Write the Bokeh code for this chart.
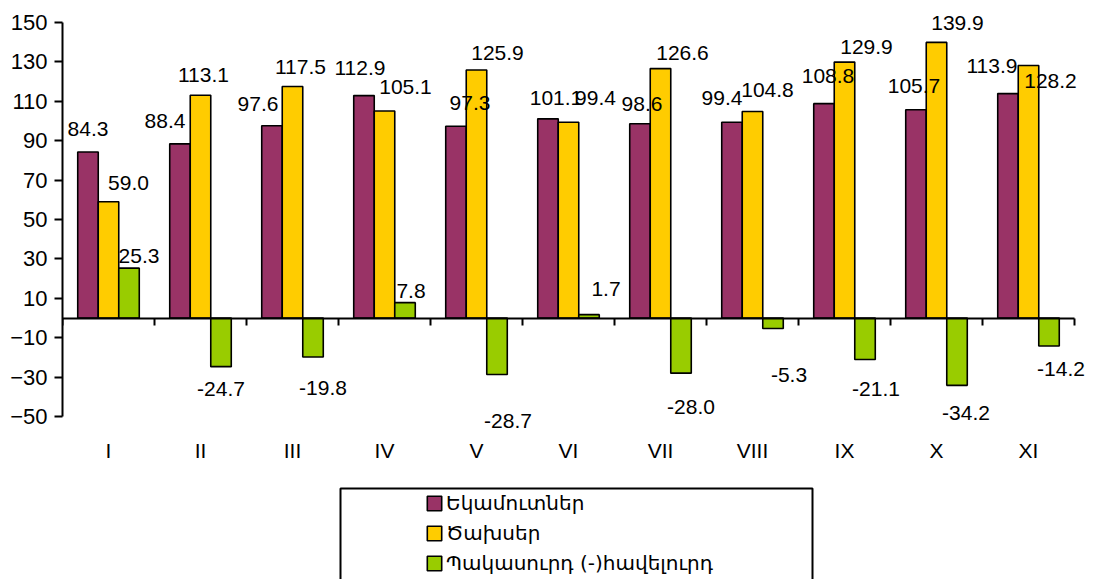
from bokeh.plotting import figure
from bokeh.models import (ColumnDataSource, LinearAxis, FixedTicker, Range1d,
                          Legend, LegendItem, BoxAnnotation)
from bokeh.core.properties import value
from bokeh.embed import file_html
from bokeh.resources import INLINE

# ---- data ----
categories = ["I", "II", "III", "IV", "V", "VI", "VII", "VIII", "IX", "X", "XI"]
revenues = [84.3, 88.4, 97.6, 112.9, 97.3, 101.1, 98.6, 99.4, 108.8, 105.7, 113.9]
expenses = [59.0, 113.1, 117.5, 105.1, 125.9, 99.4, 126.6, 104.8, 129.9, 139.9, 128.2]
balance = [25.3, -24.7, -19.8, 7.8, -28.7, 1.7, -28.0, -5.3, -21.1, -34.2, -14.2]
series_names = ["Եկամուտներ", "Ծախսեր", "Պակասուրդ (-)հավելուրդ"]
y_ticks = [-50, -30, -10, 10, 30, 50, 70, 90, 110, 130, 150]
y_min, y_max = -50, 150

# ---- styling / label nudges (screen pixels) ----
colors = ["#993366", "#FFCC00", "#99CC00"]
rev_dx = [0, -15, -14, -4, 14, 8, 2, -10, 4, -2, -16]
rev_dy = [-23, -23, -22, -28, -23, -21, -20, -24, -28, -24, -28]
exp_dx = [20, 3, 8, 21, 21, 27, 22, 15, 22, 21, 22]
exp_dy = [-19, -20, -20, -24, -17, -24, -16, -22, -15, -19, 16]
bal_dx = [10, 0, 10, 6, 11, 17, 10, 16, 11, 9, 12]
bal_dy = [-12, 22, 31, -12, 46, -26, 34, 47, 29, 28, 23]

W, H = 1102, 579
LEFT = 62            # frame left (px)
SLOT = 92            # px per category
AX_TOP, AX_BOT = 22, 416   # px of y_max / y_min
ppu = (AX_BOT - AX_TOP) / (y_max - y_min)
zero_px = AX_TOP + y_max * ppu

BAR_W = 0.223
n = len(categories)
centers = [i + 1 for i in range(n)]
x_lo = 0.5
x_hi = x_lo + (W - LEFT) / SLOT
yr_hi = zero_px / ppu
yr_lo = -(H - zero_px) / ppu

p = figure(width=W, height=H, x_range=Range1d(x_lo, x_hi),
           y_range=Range1d(yr_lo, yr_hi), output_backend="svg",
           toolbar_location=None, min_border_left=LEFT, min_border_right=0,
           min_border_top=0, min_border_bottom=0)
p.outline_line_color = None
p.xgrid.visible = False
p.ygrid.visible = False
p.background_fill_color = "white"
p.border_fill_color = "white"

FONT = value("Liberation Sans")

series = [revenues, expenses, balance]
dxs = [rev_dx, exp_dx, bal_dx]
dys = [rev_dy, exp_dy, bal_dy]
renderers = []
sources = []
for k, (vals, col, dx, dy) in enumerate(zip(series, colors, dxs, dys)):
    xs = [c + (k - 1) * BAR_W for c in centers]
    src = ColumnDataSource(dict(x=xs, top=vals, bottom=[0] * n,
                                label=[f"{v:.1f}" for v in vals],
                                dx=dx, dy=dy))
    sources.append(src)
    r = p.vbar(x="x", top="top", bottom="bottom", width=BAR_W, source=src,
               fill_color=col, line_color="black", line_width=1.6)
    renderers.append(r)

for src in sources:
    p.text(x="x", y="top", text="label", source=src, x_offset="dx",
           y_offset="dy", text_align="center", text_baseline="middle",
           text_font=FONT, text_font_size="21px", text_color="black")

# left axis
ya = p.yaxis[0]
ya.ticker = FixedTicker(ticks=y_ticks)
ya.bounds = (y_min, y_max)
ya.axis_line_width = 2
ya.major_tick_line_width = 2
ya.major_tick_out = 8
ya.major_tick_in = 0
ya.minor_tick_line_color = None
ya.major_label_standoff = 7
ya.major_label_text_font = "Liberation Sans"
ya.major_label_text_font_size = "22px"
ya.major_label_text_color = "black"

# category labels under the plot area (no line)
xa = p.xaxis[0]
xa.fixed_location = y_min
xa.ticker = FixedTicker(ticks=centers)
xa.major_label_overrides = {c: cat for c, cat in zip(centers, categories)}
xa.axis_line_color = None
xa.major_tick_line_color = None
xa.minor_tick_line_color = None
xa.major_tick_out = 0
xa.major_tick_in = 0
xa.major_label_standoff = 22
xa.major_label_text_font = "Liberation Sans"
xa.major_label_text_font_size = "21px"
xa.major_label_text_color = "black"

# zero line axis with boundary ticks
bounds = [c + 0.5 for c in [0] + centers]
za = LinearAxis(fixed_location=0, ticker=FixedTicker(ticks=bounds),
                major_label_overrides={b: "" for b in bounds},
                bounds=(bounds[0], bounds[-1]))
za.axis_line_width = 2
za.major_tick_line_width = 2
za.major_tick_out = 7
za.major_tick_in = 0
za.minor_tick_line_color = None
za.major_label_text_font_size = "1px"
p.add_layout(za, "below")

# legend
legend = Legend(items=[LegendItem(label=nm, renderers=[r])
                       for nm, r in zip(series_names, renderers)],
                location=(363, 4), orientation="vertical",
                border_line_color=None, background_fill_alpha=0,
                padding=0, margin=0, spacing=6, glyph_height=18,
                glyph_width=18, label_height=20, label_standoff=3,
                label_text_font="DejaVu Sans", label_text_font_size="20px",
                label_text_color="black")
p.add_layout(legend, "center")

box = BoxAnnotation(left=340, right=812, top=488, bottom=H + 20,
                    left_units="canvas", right_units="canvas",
                    top_units="canvas", bottom_units="canvas",
                    fill_color=None, fill_alpha=0, line_color="black",
                    line_alpha=1.0, line_width=2)
p.add_layout(box)

open("out.html", "w").write(file_html(p, INLINE))
